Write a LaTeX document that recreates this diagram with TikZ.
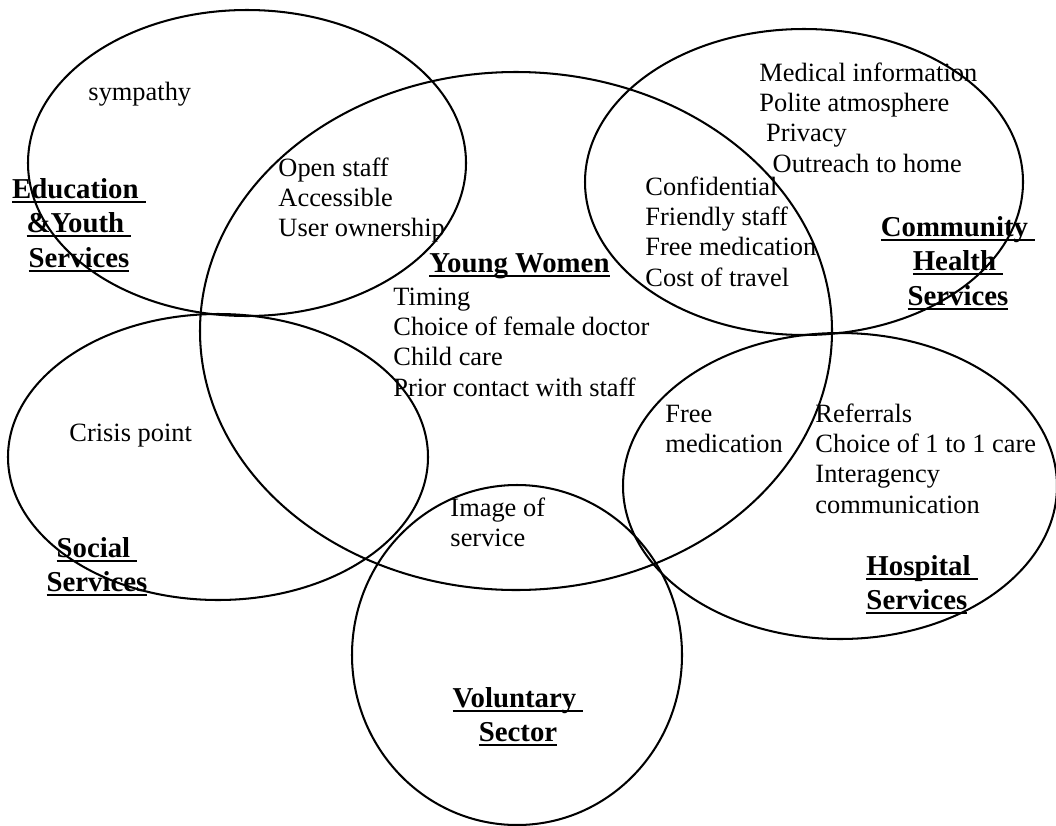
\documentclass[tikz,border=0pt]{standalone}
\usepackage{fontspec}
\setmainfont{Liberation Serif}
\usetikzlibrary{shapes.geometric}

% underline that sits at a fixed depth below the baseline
\newsavebox\ulbox
\newcommand\ulword[1]{\sbox\ulbox{#1}\rlap{\rule[-2.0pt]{\wd\ulbox}{0.95pt}}\usebox\ulbox}

% one drawing unit is one pixel of a 1056 x 825 sheet
\tikzset{
  oval/.style 2 args={ellipse, draw, line width=0.85pt, inner sep=0pt,
    minimum width=#1*0.83333pt, minimum height=#2*0.83333pt},
  plain/.style={inner sep=0pt, anchor=base west,
    font=\fontsize{11}{12.65}\selectfont},
  title/.style={inner sep=0pt, anchor=base,
    font=\fontsize{12}{14.4}\selectfont\bfseries},
}

\begin{document}
\begin{tikzpicture}[x=0.41667pt, y=-0.41667pt]
\useasboundingbox (0,0) rectangle (1056,825);

% the six service areas
\node[oval={219}{153}] (edu)  at (247,163) {};
\node[oval={316}{259}] (yw)   at (516,331) {};
\node[oval={219}{153}] (chs)  at (804,182) {};
\node[oval={210}{143}] (soc)  at (218,457) {};
\node[oval={217}{153}] (hosp) at (840,486) {};
\node[oval={165}{170}] (vol)  at (517,655) {};

% area titles
\node[title] (eduT) at (79,198)
  {\begin{tabular}[t]{@{}c@{}}\ulword{Education\ }\\\ulword{\&Youth\ }\\\ulword{Services}\end{tabular}};
\node[title, anchor=base west] (ywT) at (429,272) {\ulword{Young Women}};
\node[title] (chsT) at (958,236)
  {\begin{tabular}[t]{@{}c@{}}\ulword{Community\ }\\\ulword{Health\ }\\\ulword{Services}\end{tabular}};
\node[title] (socT) at (97,557)
  {\begin{tabular}[t]{@{}c@{}}\ulword{Social\ }\\\ulword{Services}\end{tabular}};
\node[title, anchor=base west] (hospT) at (866,575)
  {\begin{tabular}[t]{@{}l@{}}\ulword{Hospital\ }\\\ulword{Services}\end{tabular}};
\node[title] (volT) at (518,707)
  {\begin{tabular}[t]{@{}c@{}}\ulword{Voluntary\ }\\\ulword{Sector}\end{tabular}};

% factors
\node[plain] (symp) at (88,100) {sympathy};
\node[plain] (open) at (278,176)
  {\begin{tabular}[t]{@{}l@{}}Open staff\\Accessible\\User ownership\end{tabular}};
\node[plain] (timing) at (393,305)
  {\begin{tabular}[t]{@{}l@{}}Timing\\Choice of female doctor\\Child care\\Prior contact with staff\end{tabular}};
\node[plain] (medinfo) at (759,81)
  {\begin{tabular}[t]{@{}l@{}}Medical information\\Polite atmosphere\\\ Privacy\\\ \ Outreach to home\end{tabular}};
\node[plain] (conf) at (645,195)
  {\begin{tabular}[t]{@{}l@{}}Confidential\\Friendly staff\\Free medication\\Cost of travel\end{tabular}};
\node[plain] (crisis) at (69,441) {Crisis point};
\node[plain] (freemed) at (665,422)
  {\begin{tabular}[t]{@{}l@{}}Free\\medication\end{tabular}};
\node[plain] (refer) at (815,422)
  {\begin{tabular}[t]{@{}l@{}}Referrals\\Choice of 1 to 1 care\\Interagency\\communication\end{tabular}};
\node[plain] (image) at (450,516)
  {\begin{tabular}[t]{@{}l@{}}Image of\\service\end{tabular}};
\end{tikzpicture}
\end{document}
